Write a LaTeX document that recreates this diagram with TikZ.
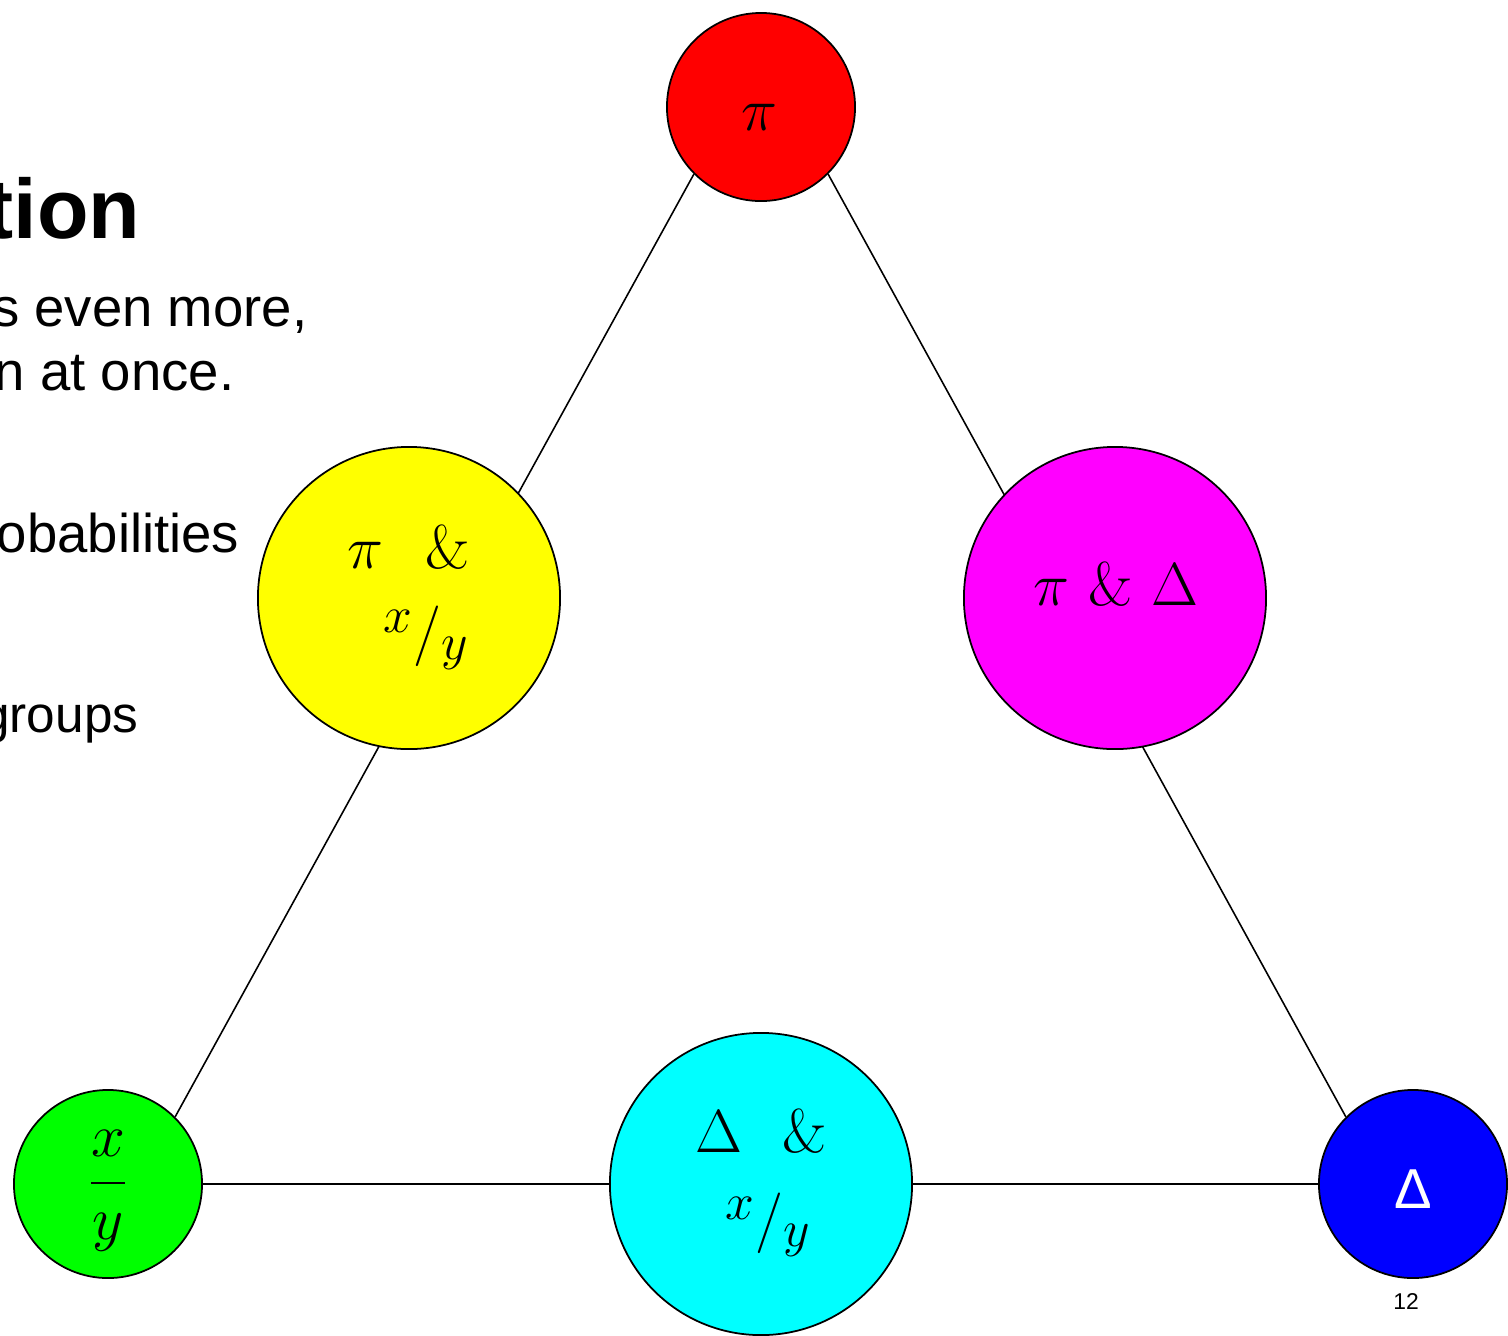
\documentclass[tikz,border=0pt]{standalone}
\usepackage{fontspec}
\usepackage{graphicx}
\newfontfamily\arial{Liberation Sans}
\usetikzlibrary{backgrounds}

\definecolor{cRed}{RGB}{255,0,0}
\definecolor{cYellow}{RGB}{255,255,0}
\definecolor{cMagenta}{RGB}{255,0,255}
\definecolor{cGreen}{RGB}{0,255,0}
\definecolor{cCyan}{RGB}{0,255,255}
\definecolor{cBlue}{RGB}{0,0,255}

% x over y written as a slanted (skewed) fraction
\newcommand\skewfrac[2]{%
  \raisebox{0.30em}{\scalebox{0.85}{$#1$}}\kern0.01em$\big/$\kern0.01em%
  \raisebox{-0.14em}{\scalebox{0.85}{$#2$}}}

\tikzset{
  small/.style={circle, draw=black, line width=0.5pt, inner sep=0pt, minimum size=1.88cm},
  big/.style={circle, draw=black, line width=0.5pt, inner sep=0pt, minimum size=3.02cm},
  link/.style={draw=black, line width=0.45pt},
  mtext/.style={anchor=base, inner sep=0pt, font=\fontsize{17.5}{21}\selectfont},
  body/.style={anchor=base east, inner sep=0pt, font=\arial\fontsize{15.5}{18}\selectfont},
}

\begin{document}
\begin{tikzpicture}[x=0.01cm, y=-0.01cm]
  \useasboundingbox (0,0) rectangle (1508,1335);
  \clip (0,0) rectangle (1508,1335);

  % slide text running in from the left
  \node[anchor=base east, inner sep=0pt, font=\arial\bfseries\fontsize{24}{28}\selectfont] (title) at (141,238) {tion};
  \node[body] (line1) at (308,326) {s even more,};
  \node[body] (line2) at (235,390) {n at once.};
  \node[body] (line3) at (240,552) {obabilities};
  \node[body, font=\arial\fontsize{14.6}{17}\selectfont] (line4) at (139,732) {groups};

  % the six circles
  \node[small, fill=cRed]     (red)  at (761,107)  {};
  \node[big,   fill=cYellow]  (yel)  at (409,598)  {};
  \node[big,   fill=cMagenta] (mag)  at (1115,598) {};
  \node[small, fill=cGreen]   (grn)  at (108,1184) {};
  \node[big,   fill=cCyan]    (cyn)  at (761,1184) {};
  \node[small, fill=cBlue]    (blu)  at (1413,1184) {};

  % sides of the triangle, behind the circles
  \begin{scope}[on background layer]
    \draw[link] (red.south west) -- (grn.north east);
    \draw[link] (red.south east) -- (blu.north west);
    \draw[link] (grn.east) -- (blu.west);
  \end{scope}

  % labels
  \node[mtext] (redlbl) at (759,130) {$\pi$};
  \node[mtext] (yel1) at (409,568) {$\pi$\hspace{12pt}\&};
  \node[mtext] (yel2) at (426,651) {\skewfrac{x}{y}};
  \node[mtext] (maglbl) at (1116,605) {$\pi$ \& $\Delta$};
  \node[mtext] (cyn1) at (761,1152) {$\Delta$\hspace{11.5pt}\&};
  \node[mtext] (cyn2) at (768,1238) {\skewfrac{x}{y}};
  \node[mtext] (grnlbl) at (108,1198) {$\displaystyle\frac{x}{y}$};
  \node[anchor=base, inner sep=0pt, text=white, font=\arial\fontsize{16}{19}\selectfont] (blulbl) at (1413,1208) {Δ};

  % page number
  \node[anchor=base, inner sep=0pt, font=\arial\fontsize{6.5}{8}\selectfont] (pageno) at (1406,1309) {12};
\end{tikzpicture}
\end{document}
